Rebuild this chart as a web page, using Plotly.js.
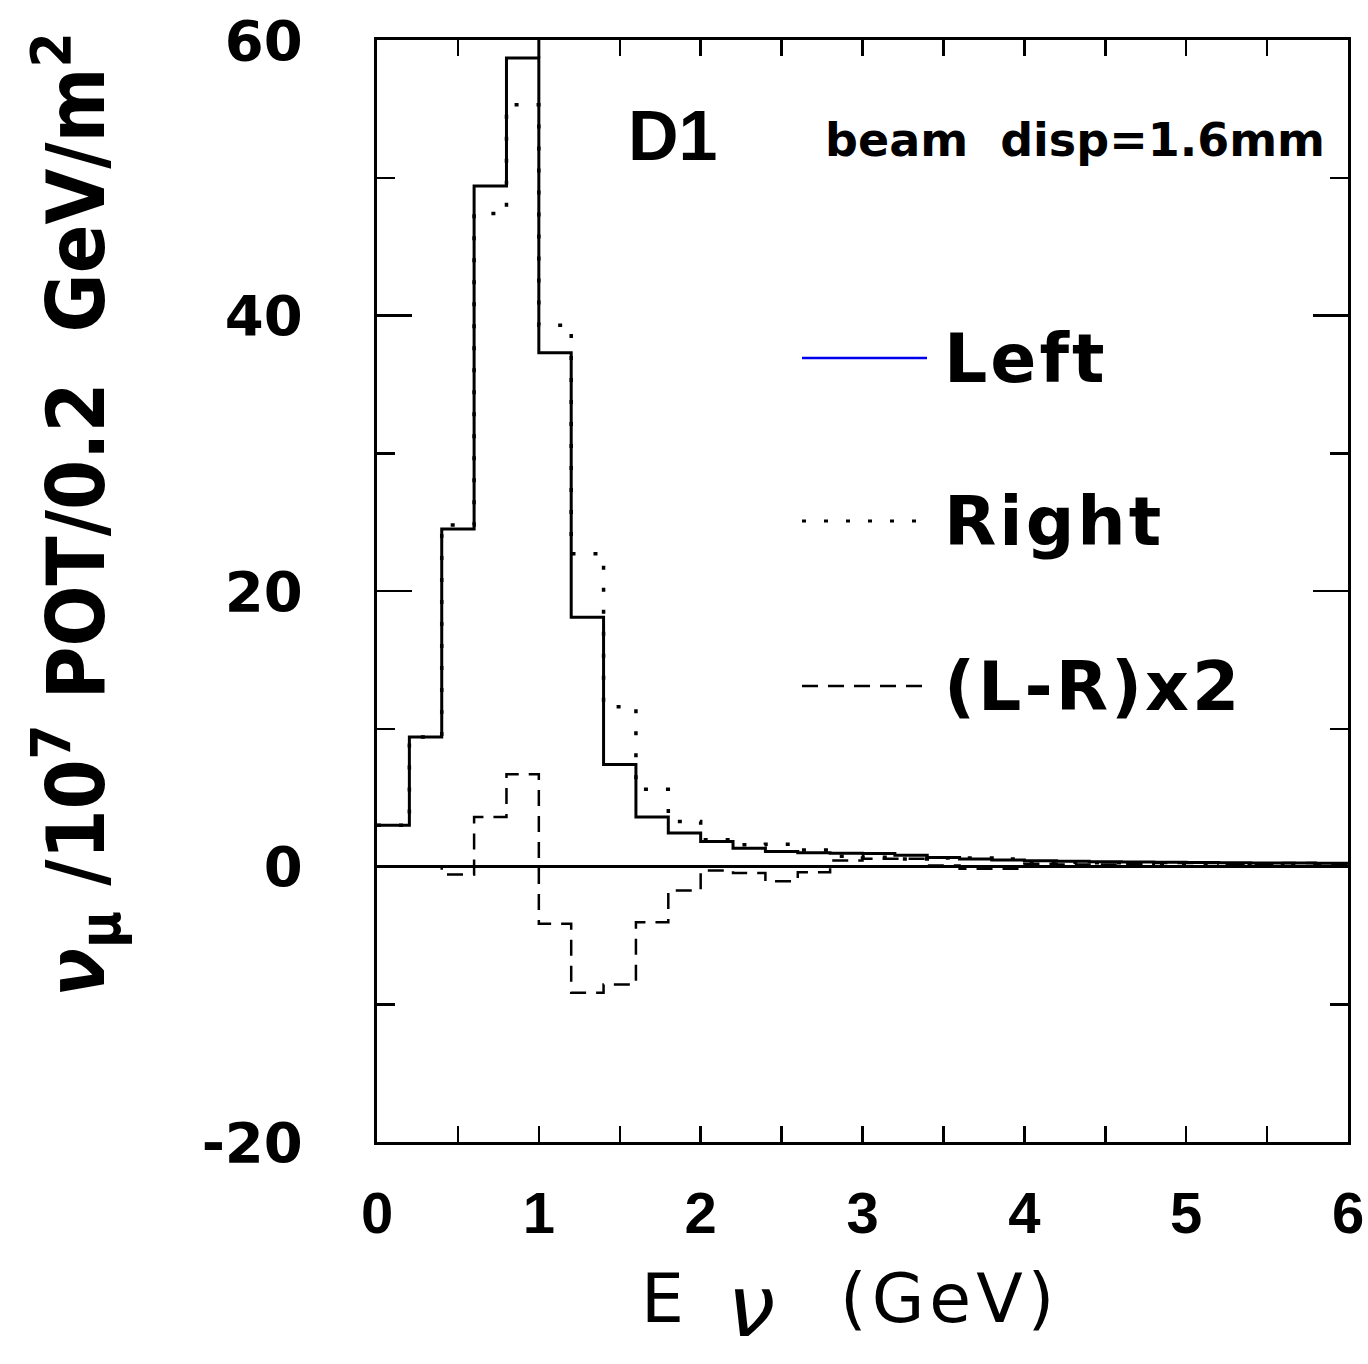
<!DOCTYPE html>
<html>
<head>
<meta charset="utf-8">
<script src="https://cdn.plot.ly/plotly-3.0.1.min.js"></script>
<style>html,body{margin:0;padding:0;background:#fff;}#plot{width:1368px;height:1364px;}</style>
</head>
<body>
<div id="plot"></div>
<script>
// Bin edges (GeV), 0.2 GeV bins
const binEdges = [0,0.2,0.4,0.6,0.8,1.0,1.2,1.4,1.6,1.8,2.0,2.2,2.4,2.6,2.8,3.0,3.2,3.4,3.6,3.8,4.0,4.2,4.4,4.6,4.8,5.0,5.2,5.4,5.6,5.8,6.0];
// nu_mu flux per bin
const leftFlux  = [3.0,9.4,24.5,49.4,58.7,37.3,18.1,7.4,3.6,2.44,1.81,1.33,1.09,1.0,0.97,0.95,0.82,0.66,0.55,0.47,0.42,0.38,0.35,0.32,0.30,0.29,0.27,0.26,0.25,0.24];
const rightFlux = [3.0,9.4,24.8,47.4,55.3,39.3,22.7,11.6,5.6,3.27,1.95,1.57,1.62,1.2,0.75,0.68,0.54,0.62,0.62,0.55,0.32,0.30,0.27,0.24,0.20,0.18,0.17,0.16,0.14,0.13];
const diffX2    = [0,0,-0.58,3.6,6.7,-4.16,-9.17,-8.57,-4.04,-1.74,-0.29,-0.48,-1.07,-0.41,0.44,0.56,0.56,0.07,-0.17,-0.17,0.2,0.15,0.15,0.2,0.25,0.25,0.2,0.2,0.25,0.2];
// edge line of the peak bin drawn up to the frame
const peakEdgeX = [1.0,1.0];
const peakEdgeY = [58.7,60];

const xTicks = [0,1,2,3,4,5,6];
const yTicks = [-20,0,20,40,60];
const legendNames = ['Left','Right','(L-R)x2'];

function stepY(v){ return v.concat([v[v.length-1]]); }

const DOT = '4px,18px';
const DASH = '16px,10px';

const traces = [
  {x: binEdges, y: stepY(leftFlux), mode:'lines', line:{shape:'hv', color:'#000', width:3}, showlegend:false},
  {x: binEdges, y: stepY(rightFlux), mode:'lines', line:{shape:'hv', color:'#000', width:3.5, dash:DOT}, showlegend:false},
  {x: binEdges, y: stepY(diffX2), mode:'lines', line:{shape:'hv', color:'#000', width:2.5, dash:DASH}, showlegend:false},
  {x: peakEdgeX, y: peakEdgeY, mode:'lines', line:{color:'#000', width:3}, showlegend:false}
];

const W = 1368, H = 1364;
const mL = 377, mR = 20, mT = 40, mB = 222;
const pw = W - mL - mR, ph = H - mT - mB;
function px(x){ return (x - mL)/pw; }
function py(y){ return 1 - (y - mT)/ph; }

const legendY = [358, 521, 686];
const legendStyles = [
  {color:'#0000ee', width:2.5, dash:'solid'},
  {color:'#000', width:3, dash:DOT},
  {color:'#000', width:2.5, dash:DASH}
];

const shapes = legendNames.map((n,i)=>({
  type:'line', xref:'paper', yref:'paper',
  x0:px(802), x1:px(927), y0:py(legendY[i]), y1:py(legendY[i]),
  line: legendStyles[i]
}));

const annotations = legendNames.map((n,i)=>({
  xref:'paper', yref:'paper', x:px(942), y:py(legendY[i]), xanchor:'left', yanchor:'middle',
  text:'<span style="letter-spacing:3px">'+n+'</span>', showarrow:false,
  font:{family:'DejaVu Sans, sans-serif', size:68, weight:'bold', color:'#000'}
}));

annotations.push({
  xref:'paper', yref:'paper', x:px(672), y:py(136), xanchor:'center', yanchor:'middle',
  text:'D1', showarrow:false,
  font:{family:'Liberation Sans, Arial, sans-serif', size:70, weight:'bold', color:'#000'}
});
annotations.push({
  xref:'paper', yref:'paper', x:px(1075), y:py(140), xanchor:'center', yanchor:'middle',
  text:'beam  disp=1.6mm', showarrow:false,
  font:{family:'DejaVu Sans, sans-serif', size:46, weight:'bold', color:'#000'}
});
// x axis title
annotations.push({
  xref:'paper', yref:'paper', x:px(850), y:py(1306), xanchor:'center', yanchor:'middle',
  text:'E  <sub><span style="font-size:86px;font-style:italic">ν</span></sub>   <span style="letter-spacing:5px">(GeV)</span>', showarrow:false,
  font:{family:'DejaVu Sans, sans-serif', size:68, color:'#000'}
});
// y axis title
annotations.push({
  xref:'paper', yref:'paper', x:px(75), y:py(515), xanchor:'center', yanchor:'middle',
  textangle:-90,
  text:'<i>ν</i><sub>μ</sub> /10<sup>7</sup> POT/0.2  GeV/m<sup>2</sup>', showarrow:false,
  font:{family:'DejaVu Sans Condensed, Liberation Sans Narrow, Liberation Sans, sans-serif', size:80, weight:'bold', color:'#000'}
});

const layout = {
  width:W, height:H,
  margin:{l:mL, r:mR, t:mT, b:mB, pad:0},
  paper_bgcolor:'#fff', plot_bgcolor:'#fff',
  showlegend:false,
  xaxis:{
    range:[0,6], tickvals:xTicks, ticktext:xTicks.map(String),
    ticks:'inside', ticklen:16, tickwidth:2.5, tickcolor:'#000',
    minor:{dtick:0.5, ticks:'inside', ticklen:16, tickwidth:2.5, tickcolor:'#000'},
    showline:true, linewidth:3, linecolor:'#000', mirror:'ticks',
    showgrid:false, zeroline:false,
    ticklabelstandoff:18,
    tickfont:{family:'Liberation Sans, Arial, sans-serif', size:58, weight:'bold', color:'#000'}
  },
  yaxis:{
    range:[-20,60], tickvals:yTicks, ticktext:yTicks.map(String),
    ticks:'inside', ticklen:35, tickwidth:2.5, tickcolor:'#000',
    minor:{dtick:10, ticks:'inside', ticklen:18, tickwidth:2.5, tickcolor:'#000'},
    showline:true, linewidth:3, linecolor:'#000', mirror:'ticks',
    showgrid:false, zeroline:true, zerolinecolor:'#000', zerolinewidth:2.5,
    ticklabelstandoff:60,
    tickfont:{family:'DejaVu Sans, sans-serif', size:56, weight:'bold', color:'#000'}
  },
  shapes:shapes,
  annotations:annotations
};

Plotly.newPlot('plot', traces, layout, {displayModeBar:false, staticPlot:true});
</script>
</body>
</html>
